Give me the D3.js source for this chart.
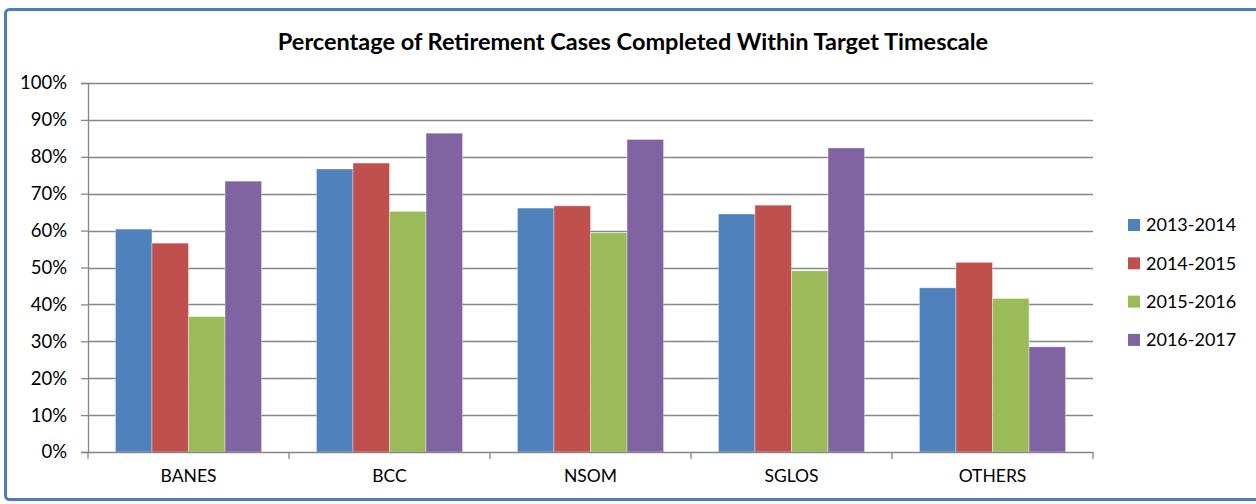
<!DOCTYPE html>
<html>
<head>
<meta charset="utf-8">
<script src="https://cdn.jsdelivr.net/npm/d3@7"></script>
<style>
	body { margin: 0; background: #fff; }
</style>
</head>
<body>
<div class="bar-chart"></div>
<script>
// Data
var categories = ['BANES', 'BCC', 'NSOM', 'SGLOS', 'OTHERS'];
var seriesNames = ['2013-2014', '2014-2015', '2015-2016', '2016-2017'];
var s2013 = [60.4, 76.7, 66.1, 64.5, 44.5];
var s2014 = [56.6, 78.3, 66.7, 66.9, 51.4];
var s2015 = [36.7, 65.2, 59.4, 49.1, 41.6];
var s2016 = [73.4, 86.4, 84.7, 82.4, 28.5];
var yTicks = [0, 10, 20, 30, 40, 50, 60, 70, 80, 90, 100];

var seriesValues = [s2013, s2014, s2015, s2016];
var seriesColors = ['#4f81bd', '#c0504d', '#9bbb59', '#8064a2'];
var fontFamily = 'Lato, "Open Sans", sans-serif',
	textColor = '#000',
	gridColor = '#868686';

var W = 1256, H = 504;
var margin = {top: 83, left: 88, bottom: 52, right: 163};
var width = W - margin.left - margin.right;
var height = H - margin.top - margin.bottom;

var x0 = d3.scaleBand().domain(categories).range([0, width]).paddingInner(0.273).paddingOuter(0.1365);
var x1 = d3.scaleBand().domain(seriesNames).range([0, x0.bandwidth()]);
var y = d3.scaleLinear().domain([0, 100]).range([height, 0]);

var svgRoot = d3.select('.bar-chart').append('svg')
	.attr('width', W)
	.attr('height', H)
	.attr('font-family', fontFamily);

// Outer frame
svgRoot.append('rect')
	.attr('x', 5.5)
	.attr('y', 9.5)
	.attr('width', W + 10)
	.attr('height', H - 14)
	.attr('rx', 4)
	.attr('fill', '#fff')
	.attr('stroke', '#4a7ebb')
	.attr('stroke-width', 3);

svgRoot.append('text')
	.attr('x', 633)
	.attr('y', 50)
	.attr('text-anchor', 'middle')
	.attr('font-size', '23.5px')
	.attr('font-weight', 'bold')
	.attr('fill', textColor)
	.text('Percentage of Retirement Cases Completed Within Target Timescale');

var svg = svgRoot.append('g')
	.attr('transform', 'translate(' + margin.left + ',' + margin.top + ')');

// Gridlines
svg.append('g')
	.selectAll('line')
	.data(yTicks.slice(1))
	.join('line')
	.attr('x1', 0)
	.attr('x2', width)
	.attr('y1', function(d) { return Math.round(y(d)) + 0.5; })
	.attr('y2', function(d) { return Math.round(y(d)) + 0.5; })
	.attr('stroke', gridColor)
	.attr('stroke-width', 1.3);

// Bars
var groups = svg.append('g')
	.selectAll('g')
	.data(categories)
	.join('g')
	.attr('transform', function(d) { return 'translate(' + x0(d) + ',0)'; });

groups.selectAll('rect')
	.data(function(d, i) {
		return seriesNames.map(function(s, j) {
			return {series: s, value: seriesValues[j][i], color: seriesColors[j]};
		});
	})
	.join('rect')
	.attr('x', function(d) { return x1(d.series); })
	.attr('y', function(d) { return y(d.value); })
	.attr('width', x1.bandwidth())
	.attr('height', function(d) { return height - y(d.value); })
	.attr('fill', function(d) { return d.color; })
	.attr('stroke', 'rgba(255,255,255,0.45)')
	.attr('stroke-width', 0.8);

// Axes
var yAxis = svg.append('g')
	.call(d3.axisLeft(y)
		.tickValues(yTicks)
		.tickSize(7)
		.tickPadding(14)
		.tickFormat(function(d) { return d + '%'; }));
yAxis.selectAll('line, path').attr('stroke', gridColor).attr('stroke-width', 1.3);
yAxis.selectAll('text')
	.attr('font-family', fontFamily)
	.attr('font-size', '18.5px')
	.attr('fill', textColor);

var xAxis = svg.append('g')
	.attr('transform', 'translate(0,' + height + ')')
	.call(d3.axisBottom(x0).tickSize(0).tickPadding(18));
xAxis.select('.domain').attr('stroke', gridColor).attr('stroke-width', 1.5);
xAxis.selectAll('text')
	.attr('font-family', fontFamily)
	.attr('font-size', '17.5px')
	.attr('fill', textColor);

// category boundary ticks
var step = x0.step();
var boundaries = d3.range(categories.length + 1).map(function(i) {
	return x0(categories[0]) - x0.paddingOuter() * step + i * step;
});
svg.append('g')
	.selectAll('line')
	.data(boundaries)
	.join('line')
	.attr('x1', function(d) { return d; })
	.attr('x2', function(d) { return d; })
	.attr('y1', height)
	.attr('y2', height + 7)
	.attr('stroke', gridColor)
	.attr('stroke-width', 1.3);

// Legend
var legend = svgRoot.append('g')
	.attr('transform', 'translate(1128,225)');
var items = legend.selectAll('g')
	.data(seriesNames)
	.join('g')
	.attr('transform', function(d, i) { return 'translate(0,' + (i * 38.3) + ')'; });
items.append('rect')
	.attr('x', 0)
	.attr('y', -6)
	.attr('width', 12)
	.attr('height', 12)
	.attr('fill', function(d, i) { return seriesColors[i]; });
items.append('text')
	.attr('x', 18)
	.attr('y', 0)
	.attr('dy', '0.35em')
	.attr('font-size', '18px')
	.attr('fill', textColor)
	.text(function(d) { return d; });
</script>
</body>
</html>
